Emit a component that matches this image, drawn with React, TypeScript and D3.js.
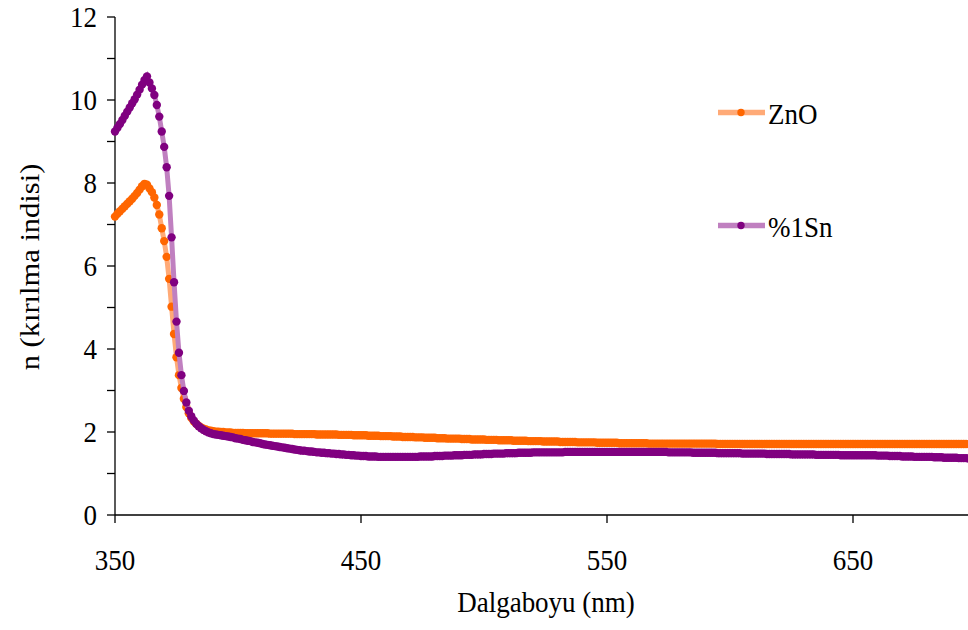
import React from "react";
import * as d3 from "d3";

const WAVELENGTH_START = 350;
const WAVELENGTH_END = 700;

// ZnO refractive index, 350..700 nm, 1 nm step
const znO: number[] = [
  7.19,7.26,7.32,7.38,7.44,7.50,7.56,7.62,7.69,7.76,
  7.84,7.92,7.98,7.96,7.87,7.78,7.65,7.47,7.24,6.91,
  6.60,6.22,5.69,5.02,4.36,3.80,3.37,3.06,2.80,2.60,
  2.45,2.34,2.26,2.20,2.15,2.11,2.08,2.06,2.04,2.03,
  2.02,2.01,2.01,2.00,2.00,1.99,1.99,1.99,1.98,1.98,
  1.98,1.98,1.98,1.97,1.97,1.97,1.97,1.97,1.97,1.97,
  1.97,1.97,1.97,1.96,1.96,1.96,1.96,1.96,1.96,1.96,
  1.96,1.96,1.96,1.95,1.95,1.95,1.95,1.95,1.95,1.95,
  1.95,1.95,1.94,1.94,1.94,1.94,1.94,1.94,1.94,1.94,
  1.94,1.93,1.93,1.93,1.93,1.93,1.93,1.92,1.92,1.92,
  1.92,1.92,1.92,1.91,1.91,1.91,1.91,1.91,1.90,1.90,
  1.90,1.90,1.90,1.89,1.89,1.89,1.89,1.88,1.88,1.88,
  1.88,1.88,1.87,1.87,1.87,1.87,1.86,1.86,1.86,1.86,
  1.86,1.85,1.85,1.85,1.85,1.84,1.84,1.84,1.84,1.84,
  1.84,1.83,1.83,1.83,1.83,1.82,1.82,1.82,1.82,1.82,
  1.82,1.81,1.81,1.81,1.81,1.81,1.80,1.80,1.80,1.80,
  1.80,1.80,1.79,1.79,1.79,1.79,1.79,1.79,1.78,1.78,
  1.78,1.78,1.78,1.78,1.77,1.77,1.77,1.77,1.77,1.77,
  1.77,1.76,1.76,1.76,1.76,1.76,1.76,1.76,1.75,1.75,
  1.75,1.75,1.75,1.75,1.75,1.75,1.74,1.74,1.74,1.74,
  1.74,1.74,1.74,1.74,1.74,1.73,1.73,1.73,1.73,1.73,
  1.73,1.73,1.73,1.73,1.73,1.73,1.73,1.72,1.72,1.72,
  1.72,1.72,1.72,1.72,1.72,1.72,1.72,1.72,1.72,1.72,
  1.72,1.72,1.72,1.72,1.72,1.72,1.72,1.72,1.72,1.72,
  1.72,1.72,1.72,1.72,1.72,1.71,1.71,1.71,1.71,1.71,
  1.71,1.71,1.71,1.71,1.71,1.71,1.71,1.71,1.71,1.71,
  1.71,1.71,1.71,1.71,1.71,1.71,1.71,1.71,1.71,1.71,
  1.71,1.71,1.71,1.71,1.71,1.71,1.71,1.71,1.71,1.71,
  1.71,1.71,1.71,1.71,1.71,1.71,1.71,1.71,1.71,1.71,
  1.71,1.71,1.71,1.71,1.71,1.71,1.71,1.71,1.71,1.71,
  1.71,1.71,1.71,1.71,1.71,1.71,1.71,1.71,1.71,1.71,
  1.71,1.71,1.71,1.71,1.71,1.71,1.71,1.71,1.71,1.71,
  1.71,1.71,1.71,1.71,1.71,1.71,1.71,1.71,1.71,1.71,
  1.71,1.71,1.71,1.71,1.71,1.71,1.71,1.71,1.71,1.71,
  1.71,1.71,1.71,1.71,1.71,1.71,1.71,1.71,1.71,1.71,
  1.71,
];

// %1Sn refractive index, 350..700 nm, 1 nm step
const sn1: number[] = [
  9.24,9.33,9.42,9.52,9.62,9.72,9.82,9.92,10.02,10.13,
  10.25,10.37,10.48,10.57,10.42,10.28,10.12,9.88,9.60,9.24,
  8.87,8.38,7.69,6.69,5.61,4.66,3.91,3.37,2.99,2.71,
  2.51,2.38,2.28,2.20,2.14,2.09,2.05,2.02,1.99,1.97,
  1.95,1.94,1.93,1.92,1.91,1.90,1.89,1.88,1.87,1.85,
  1.84,1.83,1.81,1.80,1.79,1.78,1.76,1.75,1.74,1.73,
  1.71,1.70,1.69,1.68,1.67,1.66,1.65,1.64,1.63,1.62,
  1.61,1.60,1.59,1.58,1.57,1.56,1.55,1.55,1.54,1.53,
  1.53,1.52,1.51,1.51,1.50,1.50,1.49,1.49,1.48,1.48,
  1.47,1.47,1.46,1.46,1.45,1.45,1.44,1.44,1.43,1.43,
  1.42,1.42,1.42,1.41,1.41,1.41,1.41,1.40,1.40,1.40,
  1.40,1.40,1.40,1.40,1.40,1.40,1.40,1.40,1.40,1.40,
  1.40,1.40,1.40,1.40,1.41,1.41,1.41,1.41,1.41,1.41,
  1.42,1.42,1.42,1.42,1.43,1.43,1.43,1.43,1.44,1.44,
  1.44,1.44,1.45,1.45,1.45,1.45,1.46,1.46,1.46,1.46,
  1.47,1.47,1.47,1.47,1.48,1.48,1.48,1.48,1.48,1.49,
  1.49,1.49,1.49,1.49,1.50,1.50,1.50,1.50,1.50,1.50,
  1.51,1.51,1.51,1.51,1.51,1.51,1.51,1.51,1.51,1.51,
  1.51,1.51,1.51,1.52,1.52,1.52,1.52,1.52,1.52,1.52,
  1.52,1.52,1.52,1.52,1.52,1.52,1.52,1.52,1.52,1.52,
  1.52,1.52,1.52,1.52,1.52,1.52,1.52,1.52,1.52,1.52,
  1.52,1.52,1.52,1.52,1.52,1.52,1.52,1.52,1.52,1.52,
  1.52,1.52,1.52,1.52,1.52,1.51,1.51,1.51,1.51,1.51,
  1.51,1.51,1.51,1.51,1.51,1.50,1.50,1.50,1.50,1.50,
  1.50,1.50,1.50,1.50,1.50,1.49,1.49,1.49,1.49,1.49,
  1.49,1.49,1.49,1.49,1.49,1.48,1.48,1.48,1.48,1.48,
  1.48,1.48,1.48,1.48,1.48,1.47,1.47,1.47,1.47,1.47,
  1.47,1.47,1.47,1.47,1.47,1.46,1.46,1.46,1.46,1.46,
  1.46,1.46,1.46,1.46,1.46,1.45,1.45,1.45,1.45,1.45,
  1.45,1.45,1.45,1.45,1.45,1.44,1.44,1.44,1.44,1.44,
  1.44,1.44,1.44,1.44,1.44,1.44,1.44,1.44,1.44,1.44,
  1.43,1.43,1.43,1.43,1.43,1.42,1.42,1.42,1.42,1.42,
  1.41,1.41,1.41,1.41,1.41,1.40,1.40,1.40,1.40,1.40,
  1.40,1.40,1.40,1.39,1.39,1.39,1.39,1.38,1.38,1.38,
  1.38,1.38,1.38,1.37,1.37,1.37,1.37,1.36,1.36,1.36,
  1.36,
];

const xTicks = [350, 450, 550, 650];
const yTickLabels = [0, 2, 4, 6, 8, 10, 12];
const yMinorTicks = [0, 1, 2, 3, 4, 5, 6, 7, 8, 9, 10, 11, 12];

const seriesNames = ["ZnO", "%1Sn"];
const seriesValues = [znO, sn1];
const dotColors = ["#FF6600", "#800080"];
const lineColors = ["#FFAA77", "#C080C0"];

const W = 968;
const H = 630;
const FONT = '"Liberation Serif", "DejaVu Serif", "Times New Roman", serif';
const FS = 27;
const SY = 1.13;

function SText(props: {
  x: number;
  y: number;
  anchor?: string;
  rotate?: number;
  children: React.ReactNode;
}) {
  const { x, y, anchor = "start", rotate = 0, children } = props;
  const t = rotate
    ? `translate(${x},${y}) rotate(${rotate}) scale(${SY},1)`
    : `translate(${x},${y}) scale(1,${SY})`;
  return (
    <text
      transform={t}
      textAnchor={anchor}
      style={{ fontFamily: FONT, fontSize: FS + "px" }}
      fill="#000"
    >
      {children}
    </text>
  );
}

export default function App() {
  const wavelengths = d3.range(WAVELENGTH_START, WAVELENGTH_END + 1);
  const x = d3
    .scaleLinear()
    .domain([350, 700])
    .range([115, 115 + 350 * 2.46]);
  const y = d3.scaleLinear().domain([0, 12]).range([515, 17]);

  const line = d3
    .line<number>()
    .x((_, i) => x(wavelengths[i]))
    .y((d) => y(d));

  const legendY = [112.5, 225.5];

  return (
    <svg
      width={W}
      height={H}
      style={{ position: "absolute", left: 0, top: 0, background: "#fff" }}
    >
      <rect x={0} y={0} width={W} height={H} fill="#fff" />
      {/* axes */}
      <line x1={x(350)} x2={W} y1={y(0)} y2={y(0)} stroke="#000" strokeWidth={1.3} />
      <line x1={x(350)} x2={x(350)} y1={y(0)} y2={y(12)} stroke="#000" strokeWidth={1.3} />
      {yMinorTicks.map((t) => (
        <line key={"yt" + t} x1={x(350) - 8} x2={x(350)} y1={y(t)} y2={y(t)} stroke="#000" strokeWidth={1.3} />
      ))}
      {xTicks.map((t) => (
        <line key={"xt" + t} x1={x(t)} x2={x(t)} y1={y(0)} y2={y(0) + 8} stroke="#000" strokeWidth={1.3} />
      ))}
      {yTickLabels.map((t) => (
        <SText key={"yl" + t} x={97} y={y(t) + 10} anchor="end">
          {t}
        </SText>
      ))}
      {xTicks.map((t) => (
        <SText key={"xl" + t} x={x(t)} y={570} anchor="middle">
          {t}
        </SText>
      ))}
      <SText x={546} y={612} anchor="middle">
        Dalgaboyu (nm)
      </SText>
      <SText x={39} y={267} anchor="middle" rotate={-90}>
        n (kırılma indisi)
      </SText>

      {/* series */}
      {seriesValues.map((vals, s) => (
        <g key={"s" + s}>
          <path d={line(vals) || ""} fill="none" stroke={lineColors[s]} strokeWidth={5} />
          {vals.map((v, i) => (
            <circle key={i} cx={x(wavelengths[i])} cy={y(v)} r={4.2} fill={dotColors[s]} />
          ))}
        </g>
      ))}

      {/* legend */}
      {seriesNames.map((name, s) => (
        <g key={"lg" + s}>
          <line x1={718} x2={765} y1={legendY[s]} y2={legendY[s]} stroke={lineColors[s]} strokeWidth={5.5} />
          <circle cx={741} cy={legendY[s]} r={3.7} fill={dotColors[s]} />
          <SText x={768} y={legendY[s] + 11.5}>
            {name}
          </SText>
        </g>
      ))}
    </svg>
  );
}
